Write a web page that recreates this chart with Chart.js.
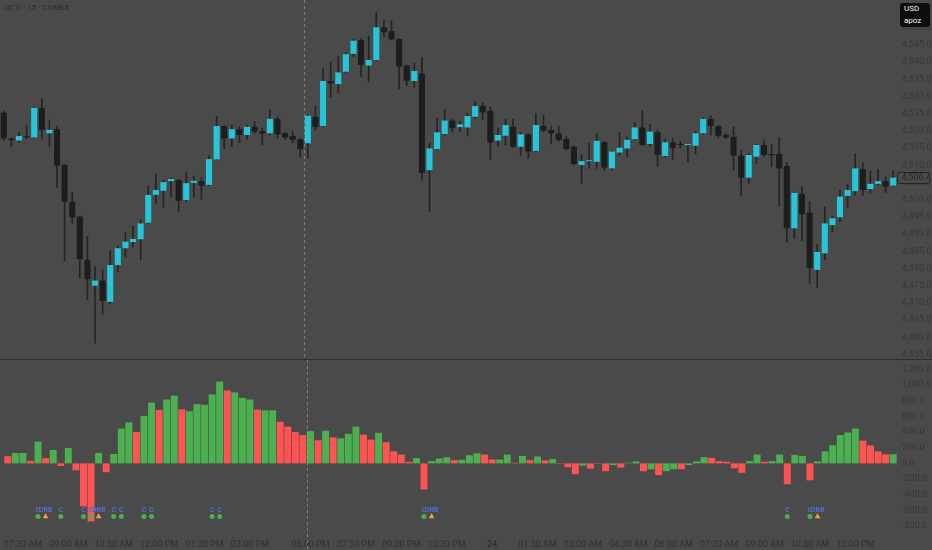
<!DOCTYPE html>
<html lang="en">
<head>
    <meta charset="UTF-8">
    <title>GC1! 15 COMEX</title>
    <script src="https://cdn.jsdelivr.net/npm/chart.js"></script>
    <style>
        body {
            margin: 0;
            background: #4a4a4a;
        }
        .wrap {
            position: relative;
            width: 932px;
            height: 550px;
            overflow: hidden;
            background: #4a4a4a;
            font-family: Roboto, "Liberation Sans", sans-serif;
        }
        canvas {
            position: absolute;
            left: 0;
        }
        #priceChart { top: 0; }
        #deltaChart { top: 360px; }
        .title {
            position: absolute;
            left: 4px;
            top: 3px;
            font-size: 8px;
            color: #2b2b2b;
        }
        .sep {
            position: absolute;
            left: 0;
            top: 359px;
            width: 932px;
            height: 1px;
            background: #2e2e2e;
        }
        .currency {
            position: absolute;
            left: 900px;
            top: 3px;
            width: 30px;
            height: 24px;
            background: #0d0d0d;
            border-radius: 3px;
            color: #f2f2f2;
            font-size: 8px;
            line-height: 12px;
            padding-left: 4px;
            box-sizing: border-box;
        }
    </style>
</head>
<body>

<div class="wrap">
    <canvas id="priceChart" width="932" height="360"></canvas>
    <canvas id="deltaChart" width="932" height="190"></canvas>
    <div class="sep"></div>
    <div class="title">GC1! · 15 · COMEX</div>
    <div class="currency"><div>USD</div><div>apoz</div></div>
</div>

<script>
    // 15 minute bars: day session 07:00 AM - 04:45 PM, then 06:00 PM - 01:15 PM
    const sessions = [[420, 40], [1080, 78]];

    const opens = [
        4525.3, 4517.8, 4517.2, 4518.4, 4518.1, 4526.6, 4519.3, 4520.5, 4510.1, 4499.4,
        4495.1, 4482.5, 4475.0, 4476.5, 4470.3, 4481.0, 4485.9, 4487.7, 4488.5, 4493.3,
        4501.4, 4502.6, 4505.4, 4505.7, 4499.9, 4504.9, 4505.4, 4504.3, 4511.7, 4521.4,
        4517.8, 4520.5, 4518.8, 4521.2, 4519.9, 4519.3, 4523.5, 4519.3, 4518.5, 4517.6,
        4516.4, 4524.1, 4521.4, 4534.5, 4533.6, 4537.2, 4542.4, 4546.4, 4539.0, 4540.6,
        4550.1, 4549.0, 4546.7, 4539.0, 4534.5, 4536.7, 4508.6, 4514.7, 4519.1, 4523.0,
        4521.1, 4521.0, 4524.1, 4527.2, 4525.8, 4517.2, 4518.6, 4521.2, 4515.4, 4519.0,
        4514.2, 4521.4, 4520.3, 4519.3, 4517.6, 4515.4, 4510.1, 4511.2, 4511.0, 4516.7,
        4509.1, 4513.7, 4514.9, 4517.6, 4521.0, 4516.2, 4519.6, 4512.7, 4516.6, 4516.0,
        4515.9, 4515.7, 4519.3, 4523.5, 4521.4, 4518.8, 4518.3, 4512.8, 4506.4, 4512.5,
        4515.9, 4513.3, 4513.3, 4509.8, 4491.7, 4501.7, 4496.2, 4479.6, 4484.4, 4492.6,
        4494.9, 4501.1, 4502.5, 4508.9, 4503.1, 4504.6, 4505.4, 4504.1
    ];
    const highs = [
        4525.8, 4518.0, 4519.5, 4521.7, 4527.0, 4529.3, 4523.2, 4521.4, 4510.3, 4502.2,
        4495.3, 4489.4, 4480.5, 4479.6, 4485.2, 4486.5, 4490.5, 4492.4, 4494.1, 4504.0,
        4507.5, 4505.7, 4506.2, 4505.9, 4508.0, 4506.9, 4506.4, 4512.7, 4524.3, 4521.6,
        4521.7, 4521.2, 4521.7, 4522.7, 4520.8, 4526.1, 4524.1, 4519.6, 4519.8, 4517.8,
        4524.6, 4527.2, 4538.2, 4540.1, 4541.6, 4542.7, 4546.6, 4546.9, 4547.6, 4554.5,
        4552.2, 4551.9, 4547.0, 4539.2, 4539.7, 4541.4, 4516.4, 4523.7, 4526.3, 4523.4,
        4522.8, 4525.1, 4528.5, 4528.2, 4526.9, 4520.8, 4523.4, 4523.4, 4519.5, 4519.2,
        4525.1, 4524.6, 4521.4, 4521.4, 4518.3, 4515.6, 4513.0, 4516.4, 4519.1, 4516.9,
        4514.2, 4519.6, 4518.3, 4522.4, 4525.9, 4521.9, 4520.3, 4517.8, 4517.8, 4517.0,
        4516.2, 4519.8, 4523.9, 4524.4, 4521.6, 4519.2, 4521.2, 4514.4, 4513.5, 4516.1,
        4517.4, 4516.1, 4518.1, 4510.8, 4502.3, 4503.8, 4499.4, 4487.1, 4498.0, 4495.1,
        4502.8, 4504.5, 4513.3, 4510.6, 4508.4, 4508.8, 4506.7, 4508.4
    ];
    const lows = [
        4517.3, 4515.4, 4516.6, 4517.8, 4517.9, 4517.6, 4515.4, 4503.6, 4482.3, 4493.1,
        4477.2, 4471.0, 4458.3, 4466.8, 4469.7, 4479.1, 4483.4, 4486.3, 4482.5, 4493.0,
        4498.9, 4497.8, 4500.9, 4496.5, 4499.4, 4500.9, 4500.1, 4504.1, 4511.5, 4514.9,
        4515.4, 4516.6, 4517.6, 4519.3, 4515.9, 4518.8, 4517.8, 4517.6, 4516.6, 4512.3,
        4512.0, 4520.3, 4521.2, 4529.9, 4531.1, 4537.0, 4541.6, 4535.8, 4534.3, 4540.4,
        4547.4, 4546.4, 4532.1, 4533.1, 4532.6, 4505.7, 4496.5, 4514.5, 4518.8, 4519.8,
        4519.8, 4518.5, 4523.7, 4523.2, 4511.7, 4515.4, 4515.9, 4515.2, 4512.8, 4512.0,
        4514.0, 4519.8, 4516.2, 4517.1, 4514.4, 4510.1, 4504.8, 4509.1, 4509.1, 4508.4,
        4508.6, 4513.0, 4512.5, 4517.4, 4515.7, 4515.4, 4509.6, 4512.5, 4511.7, 4515.1,
        4511.0, 4513.3, 4519.1, 4518.8, 4518.0, 4517.7, 4508.6, 4501.2, 4504.8, 4510.6,
        4512.5, 4509.6, 4498.0, 4487.6, 4488.8, 4488.1, 4475.7, 4474.5, 4482.5, 4490.7,
        4493.6, 4497.8, 4501.4, 4501.2, 4501.8, 4504.3, 4502.1, 4503.9
    ];
    const closes = [
        4517.8, 4517.3, 4518.5, 4518.1, 4526.7, 4520.3, 4520.3, 4509.9, 4499.4, 4494.9,
        4482.7, 4476.9, 4476.5, 4470.6, 4481.0, 4485.9, 4487.8, 4488.6, 4493.1, 4501.4,
        4502.8, 4505.1, 4506.0, 4499.7, 4504.8, 4505.5, 4504.1, 4511.8, 4521.4, 4517.8,
        4520.5, 4518.8, 4521.2, 4519.8, 4519.2, 4523.5, 4519.0, 4518.1, 4517.4, 4514.7,
        4524.4, 4521.2, 4534.5, 4533.8, 4537.0, 4542.3, 4546.2, 4539.2, 4540.6, 4550.1,
        4548.7, 4546.6, 4538.7, 4534.6, 4537.4, 4507.8, 4514.9, 4519.6, 4523.0, 4520.8,
        4521.9, 4524.3, 4527.2, 4525.4, 4516.6, 4518.8, 4521.7, 4515.4, 4519.0, 4514.0,
        4521.7, 4520.1, 4519.3, 4517.4, 4514.7, 4510.4, 4511.2, 4511.3, 4517.1, 4509.3,
        4514.0, 4515.1, 4517.4, 4521.0, 4515.9, 4519.8, 4513.0, 4516.7, 4515.1, 4515.9,
        4516.0, 4519.3, 4523.5, 4521.5, 4518.6, 4518.1, 4512.8, 4506.4, 4513.0, 4515.9,
        4513.0, 4512.9, 4509.1, 4491.7, 4502.0, 4495.8, 4480.2, 4484.8, 4493.1, 4494.6,
        4500.9, 4502.8, 4509.1, 4502.8, 4504.6, 4505.4, 4503.8, 4506.4
    ];

    // lower pane histogram and its side (b = green, s = red)
    const delta = [
        92, 133, 133, 33, 279, 67, 171, -33, 196, -88,
        -550, -742, 133, -113, 121, 446, 525, 400, 608, 779,
        683, 817, 867, 692, 667, 758, 750, 883, 1046, 933,
        908, 838, 817, 688, 679, 679, 533, 471, 400, 363,
        413, 296, 417, 333, 321, 379, 471, 367, 304, 392,
        271, 154, 113, 21, 67, -333, 29, 63, 79, 42,
        46, 104, 129, 113, 50, 50, 113, 8, 96, 42,
        88, 38, 54, 5, -50, -138, -29, -67, -5, -100,
        -21, -54, 8, 25, -100, -75, -150, -100, -75, -75,
        -21, 25, 79, 71, 29, 21, -63, -121, 29, 113,
        21, 29, 113, -267, 108, 96, -217, 25, 154, 233,
        363, 396, 446, 292, 229, 154, 117, 117
    ];
    const deltaSide = [
        's','b','b','s','b','s','b','s','b','s',
        's','s','b','s','b','b','b','s','b','b',
        's','b','b','s','b','b','b','b','b','s',
        'b','b','b','s','b','b','s','s','s','s',
        'b','s','b','s','b','b','b','s','s','b',
        's','s','s','s','b','s','b','b','b','s',
        'b','b','b','s','s','b','b','s','b','s',
        'b','s','b','s','s','s','b','s','s','s',
        'b','s','b','b','s','b','s','b','b','s',
        'b','b','b','s','s','s','s','s','b','b',
        's','b','b','s','b','b','s','b','b','b',
        'b','b','b','s','s','s','s','b'
    ];

    // signal markers (bar indexes)
    const crossBars = [4, 7, 10, 11, 14, 15, 18, 19, 27, 28, 55, 103, 106];
    const orbBars = [5, 12, 56, 107];

    const tickLabels = [
        '07:30 AM', '09:00 AM', '10:30 AM', '12:00 PM', '01:30 PM', '03:00 PM',
        '06:00 PM', '07:30 PM', '09:00 PM', '10:30 PM', '24', '01:30 AM',
        '03:00 AM', '04:30 AM', '06:00 AM', '07:30 AM', '09:00 AM', '10:30 AM', '12:00 PM'
    ];

    function timeLabel(m) {
        if (m % 1440 === 0) return '24';
        const h = Math.floor(m / 60) % 24;
        const mm = String(m % 60).padStart(2, '0');
        const hh = String(h % 12 || 12).padStart(2, '0');
        return hh + ':' + mm + (h < 12 ? ' AM' : ' PM');
    }

    const categories = [];
    sessions.forEach(([start, count]) => {
        for (let k = 0; k < count; k++) categories.push(timeLabel(start + k * 15));
    });

    const upColor = '#26c6da';
    const downColor = '#1d1d1d';
    const wickColor = '#242424';
    const buyColor = '#4caf50';
    const sellColor = '#ff5252';
    const axisColor = '#383838';
    const timeColor = '#303030';
    const markerLevel = -680;

    Chart.defaults.font.family = 'Roboto, "Liberation Sans", sans-serif';
    Chart.defaults.animation = false;

    const fmt = v => v.toLocaleString('en-US', { minimumFractionDigits: 1, maximumFractionDigits: 1 });
    const sessionBreak = categories.indexOf('06:00 PM');

    // dashed line between sessions
    const sessionLine = {
        id: 'sessionLine',
        afterDatasetsDraw(chart) {
            const x = chart.scales.x;
            const px = (x.getPixelForValue(sessionBreak - 1) + x.getPixelForValue(sessionBreak)) / 2;
            const c = chart.ctx;
            c.save();
            c.strokeStyle = 'rgba(165,165,165,0.55)';
            c.setLineDash([3, 3]);
            c.lineWidth = 1;
            c.beginPath();
            c.moveTo(Math.round(px) + 0.5, 0);
            c.lineTo(Math.round(px) + 0.5, chart.height);
            c.stroke();
            c.restore();
        }
    };

    // last price tag on the price axis
    const lastPrice = {
        id: 'lastPrice',
        afterDraw(chart) {
            const y = chart.scales.y;
            const last = closes[closes.length - 1];
            const py = y.getPixelForValue(last);
            const c = chart.ctx;
            const left = chart.chartArea.right + 0.5;
            c.save();
            c.fillStyle = '#4a4a4a';
            c.strokeStyle = '#232323';
            c.lineWidth = 1;
            c.beginPath();
            c.roundRect(left, Math.round(py) - 5.5, 32, 11, 2);
            c.fill();
            c.stroke();
            c.fillStyle = '#2a2a2a';
            c.font = '9px Roboto, "Liberation Sans", sans-serif';
            c.textBaseline = 'middle';
            c.fillText(fmt(last), left + 4, py);
            c.restore();
        }
    };

    // text above the signal markers
    const markerText = {
        id: 'markerText',
        afterDatasetsDraw(chart) {
            const x = chart.scales.x;
            const y = chart.scales.y;
            const c = chart.ctx;
            const py = y.getPixelForValue(markerLevel) - 6;
            c.save();
            c.fillStyle = '#4f6fd0';
            c.font = 'bold 7px Roboto, "Liberation Sans", sans-serif';
            c.textAlign = 'center';
            c.textBaseline = 'middle';
            crossBars.forEach(i => c.fillText('C', x.getPixelForValue(i), py));
            orbBars.forEach(i => c.fillText('ORB', x.getPixelForValue(i), py));
            c.restore();
        }
    };

    // round-number ticks inside the visible range
    function roundTicks(step) {
        return scale => {
            const ticks = [];
            for (let v = Math.ceil(scale.min / step) * step; v <= scale.max; v += step) {
                ticks.push({ value: v });
            }
            scale.ticks = ticks;
        };
    }

    // axis fills its pane edge to edge, no label overhang
    const noPad = size => s => {
        if (s.isHorizontal()) {
            s.height = size;
            s.paddingLeft = 0;
            s.paddingRight = 0;
        } else {
            s.width = size;
            s.paddingTop = 0;
            s.paddingBottom = 0;
        }
    };

    new Chart(document.getElementById('priceChart'), {
        type: 'bar',
        data: {
            labels: categories,
            datasets: [
                {
                    data: categories.map((_, i) => [lows[i], highs[i]]),
                    backgroundColor: wickColor,
                    barThickness: 1,
                    grouped: false,
                    order: 2
                },
                {
                    data: categories.map((_, i) => [opens[i], closes[i]]),
                    backgroundColor: categories.map((_, i) => closes[i] >= opens[i] ? upColor : downColor),
                    barPercentage: 0.8,
                    categoryPercentage: 1,
                    minBarLength: 1,
                    grouped: false,
                    order: 1
                }
            ]
        },
        options: {
            responsive: false,
            layout: { padding: 0 },
            plugins: {
                legend: { display: false },
                tooltip: { enabled: false }
            },
            scales: {
                x: { display: false, offset: true },
                y: {
                    position: 'right',
                    min: 4453.4,
                    max: 4558.05,
                    grid: { display: false, drawTicks: false },
                    border: { display: false },
                    ticks: {
                        padding: 5,
                        color: axisColor,
                        font: { size: 9 },
                        callback: v => fmt(v)
                    },
                    afterBuildTicks: roundTicks(5),
                    afterFit: noPad(35)
                }
            }
        },
        plugins: [sessionLine, lastPrice]
    });

    new Chart(document.getElementById('deltaChart'), {
        type: 'bar',
        data: {
            labels: categories,
            datasets: [
                {
                    type: 'line',
                    data: categories.map((_, i) => crossBars.includes(i) ? markerLevel : null),
                    showLine: false,
                    pointStyle: 'circle',
                    pointRadius: 2.5,
                    pointBorderWidth: 0,
                    pointBackgroundColor: buyColor,
                    order: 0
                },
                {
                    type: 'line',
                    data: categories.map((_, i) => orbBars.includes(i) ? markerLevel : null),
                    showLine: false,
                    pointStyle: 'triangle',
                    pointRadius: 3.2,
                    pointBorderWidth: 0,
                    pointBackgroundColor: '#f2a533',
                    order: 0
                },
                {
                    data: delta,
                    backgroundColor: deltaSide.map(s => s === 'b' ? buyColor : sellColor),
                    barPercentage: 0.92,
                    categoryPercentage: 1,
                    order: 1
                }
            ]
        },
        options: {
            responsive: false,
            layout: { padding: 0 },
            plugins: {
                legend: { display: false },
                tooltip: { enabled: false }
            },
            scales: {
                x: {
                    offset: true,
                    grid: { display: false, drawTicks: false },
                    border: { display: false },
                    ticks: {
                        autoSkip: false,
                        maxRotation: 0,
                        padding: 3,
                        color: timeColor,
                        font: ctx => ({ size: 9, weight: ctx.tick && ctx.tick.label === '24' ? 'bold' : 'normal' }),
                        callback: (v, i) => tickLabels.includes(categories[i]) ? categories[i] : ''
                    },
                    afterFit: noPad(14)
                },
                y: {
                    position: 'right',
                    min: -928.75,
                    max: 1271.25,
                    grid: { display: false, drawTicks: false },
                    border: { display: false },
                    ticks: {
                        padding: 5,
                        color: axisColor,
                        font: { size: 9 },
                        callback: v => fmt(v)
                    },
                    afterBuildTicks: roundTicks(200),
                    afterFit: noPad(35)
                }
            }
        },
        plugins: [sessionLine, markerText]
    });
</script>

</body>
</html>
